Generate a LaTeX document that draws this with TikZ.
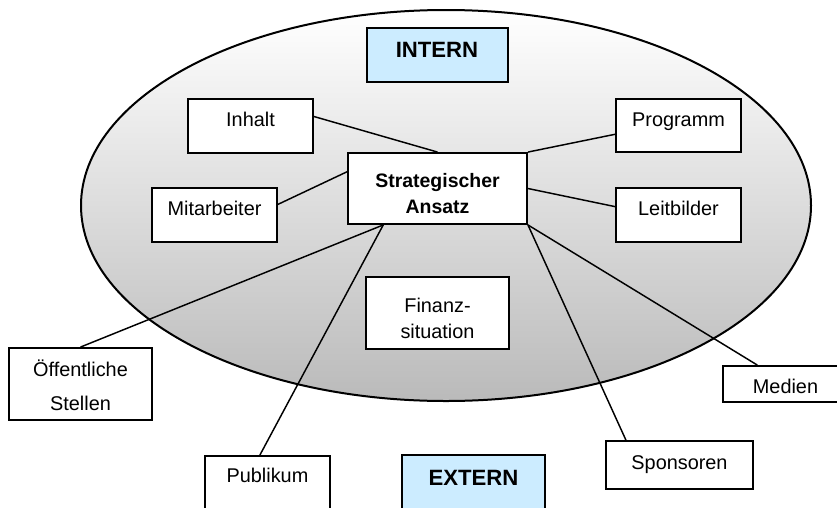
\documentclass[tikz,border=0pt]{standalone}
\usepackage{fontspec}
\setmainfont{Liberation Sans}
\usetikzlibrary{fit,calc}
\definecolor{headblue}{RGB}{204,236,255}

\begin{document}
\begin{tikzpicture}[x=0.75pt, y=-0.75pt,
  box/.style={draw, fill=white, line width=1.4pt, inner sep=0pt},
  headbox/.style={box, fill=headblue},
  txt/.style={anchor=base, inner sep=0pt, font=\fontsize{14.9pt}{17pt}\selectfont},
  bold/.style={anchor=base, inner sep=0pt, font=\fontsize{14.6pt}{17pt}\selectfont\bfseries},
  head/.style={anchor=base, inner sep=0pt, font=\fontsize{16.6pt}{19pt}\selectfont\bfseries},
  link/.style={line width=1.1pt}]
\clip (0,0) rectangle (837,507);

% inner area: shaded ellipse
\path[draw, line width=1.5pt, top color=white, bottom color=black!27]
  (446,205.5) ellipse [x radius=365, y radius=195.5];

% boxes
\node[headbox, fit={(367,28) (508,82)}] (intern) {};
\node[box, fit={(348,153) (527,224)}] (sa) {};
\node[box, fit={(188,99) (313,153)}] (inhalt) {};
\node[box, fit={(152,188) (277,242)}] (mit) {};
\node[box, fit={(616,99) (741,152)}] (prog) {};
\node[box, fit={(616,188) (741,242)}] (leit) {};
\node[box, fit={(366,277) (509,349)}] (fin) {};
\node[box, fit={(9,348) (152,420)}] (oeff) {};
\node[box, fit={(205,456) (330,520)}] (pub) {};
\node[headbox, fit={(402,455) (545,520)}] (extern) {};
\node[box, fit={(723,366) (847,402)}] (med) {};
\node[box, fit={(606,441) (753,489)}] (spon) {};

% connectors
\draw[link] ($(inhalt.north east)!0.33!(inhalt.south east)$) -- (sa.north);
\draw[link] ($(mit.north east)!0.31!(mit.south east)$) -- ($(sa.north west)!0.27!(sa.south west)$);
\draw[link] (sa.north east) -- ($(prog.north west)!0.66!(prog.south west)$);
\draw[link] (sa.east) -- ($(leit.north west)!0.35!(leit.south west)$);
\draw[link] (oeff.north) -- ($(sa.south west)!0.2!(sa.south east)$);
\draw[link] ($(pub.north west)!0.44!(pub.north east)$) -- ($(sa.south west)!0.2!(sa.south east)$);
\draw[link] ($(spon.north west)!0.14!(spon.north east)$) -- (sa.south east);
\draw[link] ($(med.north west)!0.28!(med.north east)$) -- (sa.south east);

% labels
\node[head] (intern-t) at (437,57) {INTERN};
\node[bold] (sa-t1) at (437.5,187) {Strategischer};
\node[bold] (sa-t2) at (437.5,213) {Ansatz};
\node[txt] (inhalt-t) at (250.5,126) {Inhalt};
\node[txt] (mit-t) at (214.5,215) {Mitarbeiter};
\node[txt] (prog-t) at (678.5,126) {Programm};
\node[txt] (leit-t) at (678.5,215) {Leitbilder};
\node[txt] (fin-t1) at (437.5,312) {Finanz-};
\node[txt] (fin-t2) at (437.5,338) {situation};
\node[txt] (oeff-t1) at (80.5,376) {Öffentliche};
\node[txt] (oeff-t2) at (80.5,410) {Stellen};
\node[txt] (pub-t) at (267.5,482) {Publikum};
\node[head] (extern-t) at (473.5,485) {EXTERN};
\node[txt] (med-t) at (785.5,393) {Medien};
\node[txt] (spon-t) at (679.5,469) {Sponsoren};
\end{tikzpicture}
\end{document}
